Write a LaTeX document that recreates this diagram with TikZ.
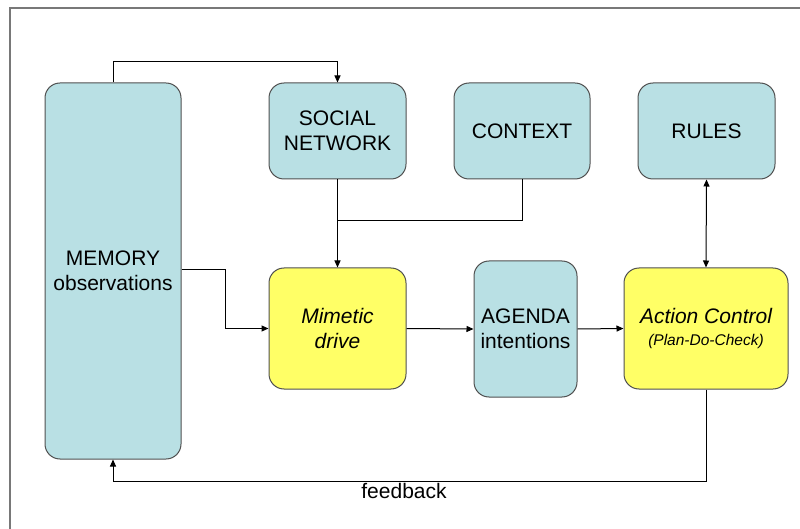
\documentclass[tikz,border=0pt]{standalone}
\usepackage{fontspec}
\setmainfont{Liberation Sans}
\usetikzlibrary{arrows.meta}
\definecolor{boxblue}{RGB}{185,224,228}
\definecolor{boxyellow}{RGB}{255,255,102}
\definecolor{boxline}{RGB}{80,80,80}
\definecolor{framegray}{RGB}{120,120,120}
\tikzset{
  box/.style={draw=boxline, line width=1pt, rounded corners=15pt, align=center, inner sep=0pt,
    font=\fontsize{21}{25}\selectfont},
  bluebox/.style={box, fill=boxblue},
  yellowbox/.style={box, fill=boxyellow},
  conn/.style={draw=black, line width=1pt},
  arr/.style={conn, -{Triangle[length=7pt,width=6pt]}},
  darr/.style={conn, {Triangle[length=7pt,width=6pt]}-{Triangle[length=7pt,width=6pt]}},
}
\begin{document}
\begin{tikzpicture}[x=1pt,y=-1pt]
\useasboundingbox (0,0) rectangle (800,529);
\draw[framegray, line width=1.5pt] (10,529) -- (10,8) -- (800,8);

\node[bluebox, minimum width=136pt, minimum height=376pt] (mem) at (113,271) {MEMORY\\observations};
\node[bluebox, minimum width=137pt, minimum height=96pt] (soc) at (337.5,131) {SOCIAL\\NETWORK};
\node[bluebox, minimum width=136pt, minimum height=96pt] (ctx) at (522,131) {CONTEXT};
\node[bluebox, minimum width=137pt, minimum height=96pt] (rul) at (706.5,131) {RULES};
\node[yellowbox, minimum width=137pt, minimum height=121pt] (mim) at (337.5,328.5) {\itshape Mimetic\\\itshape drive};
\node[bluebox, minimum width=103pt, minimum height=136pt] (age) at (525.5,329) {AGENDA\\intentions};
\node[yellowbox, minimum width=164pt, minimum height=121pt] (act) at (706,328.5)
  {\itshape Action Control\\[-3pt]{\fontsize{15.5}{18}\selectfont\itshape (Plan-Do-Check)}};

\coordinate (topbend) at (113,62);
\coordinate (membend) at (225,270);
\coordinate (ctxjoin) at (337.5,221);
\coordinate (fbbend) at (706,481);

\draw[arr] (mem.north) -- (topbend) -| (soc.north);
\draw[arr] (mem.east |- membend) -- (membend) |- (mim.west);
\draw[arr] (soc.south) -- (mim.north);
\draw[conn] (ctx.south) |- (ctxjoin);
\draw[arr] (mim.east) -- (age.west);
\draw[arr] (age.east) -- (act.west);
\draw[darr] (rul.south) -- (act.north);
\draw[arr] (act.south) -- (fbbend) -| (mem.south);
\node[font=\fontsize{21}{25}\selectfont] (fb) at (404,491) {feedback};
\end{tikzpicture}
\end{document}
